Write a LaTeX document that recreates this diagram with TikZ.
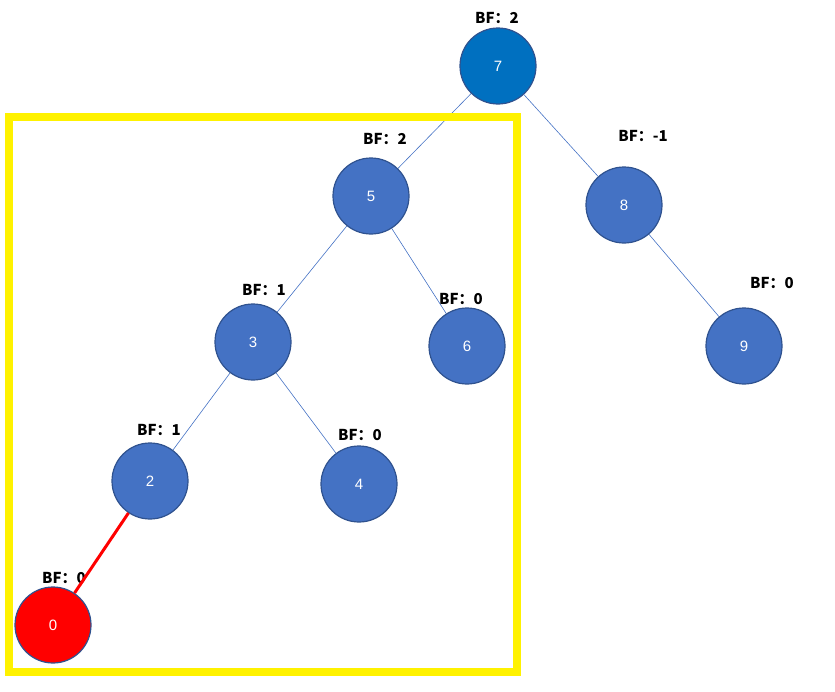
\documentclass[tikz,border=0pt]{standalone}
\usepackage{fontspec}
\setmainfont{Liberation Sans}
\newfontfamily\cjk{Noto Sans CJK SC}
\definecolor{treeblue}{HTML}{4472C4}
\definecolor{rootblue}{HTML}{0070C0}
\definecolor{rimblue}{HTML}{2F528F}
\begin{document}
\begin{tikzpicture}[x=1pt, y=-1pt, thick]
\useasboundingbox (0,0) rectangle (835,691);

\tikzstyle{every node}=[circle, minimum size=76pt, inner sep=0pt, fill=treeblue, draw=rimblue, line width=1.2pt, text=white, font=\fontsize{15}{15}\selectfont]
\draw (498,66) node[fill=rootblue] (n7) {7}
      (371,196) node (n5) {5}
      (624,205) node (n8) {8}
      (253,342) node (n3) {3}
      (467,346) node (n6) {6}
      (744,346) node (n9) {9}
      (150,481) node (n2) {2}
      (359,484) node (n4) {4}
      (53,625)  node[fill=red] (n0) {0};

\tikzstyle{every node}=[text=black, font=\cjk\bfseries\fontsize{15}{15}\selectfont]
\draw (497,18) node (bf7) {BF：2}
      (385,139) node (bf5) {BF：2}
      (643,136) node (bf8) {BF：-1}
      (264,290) node (bf3) {BF：1}
      (461,299) node (bf6) {BF：0}
      (772,283) node (bf9) {BF：0}
      (159,430) node (bf2) {BF：1}
      (360,435) node (bf4) {BF：0}
      (64,578)  node (bf0) {BF：0};

\begin{scope}[on background layer/.style={}]
\draw [draw=treeblue, line width=0.6pt] (n7) -- (n5);
\draw [draw=treeblue, line width=0.6pt] (n7) -- (n8);
\draw [draw=treeblue, line width=0.6pt] (n5) -- (n3);
\draw [draw=treeblue, line width=0.6pt] (n5) -- (n6);
\draw [draw=treeblue, line width=0.6pt] (n8) -- (n9);
\draw [draw=treeblue, line width=0.6pt] (n3) -- (n2);
\draw [draw=treeblue, line width=0.6pt] (n3) -- (n4);
\draw [draw=red, line width=3pt] (n2) -- (n0);
\end{scope}

\draw [draw=yellow, line width=8pt] (9,117) rectangle (517,672);

\end{tikzpicture}
\end{document}
